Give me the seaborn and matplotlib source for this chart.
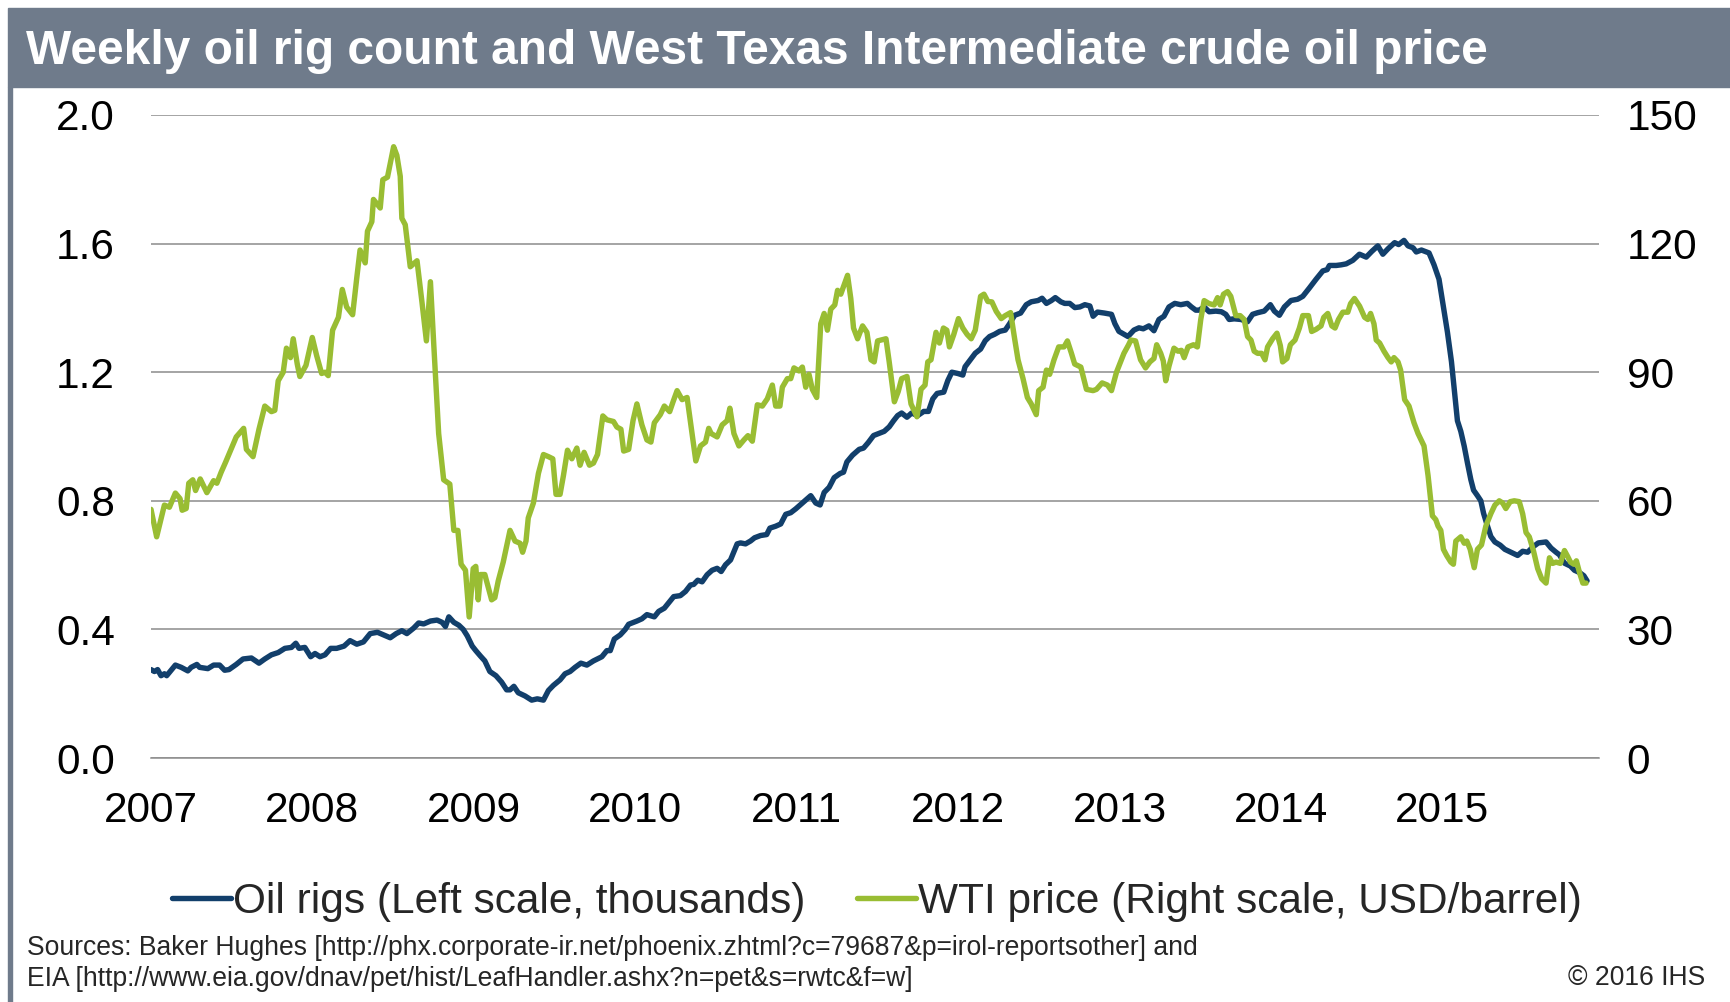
"""
Weekly oil rig count (Baker Hughes) against the WTI crude price (EIA), 2007-2015.
Rig count on the left axis in thousands, WTI on a twin right axis in USD/barrel.
Values are read off the published IHS chart.
"""

import matplotlib
matplotlib.use("Agg")
import matplotlib.pyplot as plt
from matplotlib.lines import Line2D
from matplotlib.patches import Rectangle
import seaborn as sns

TITLE = "Weekly oil rig count and West Texas Intermediate crude oil price"
RIG_LABEL = "Oil rigs (Left scale, thousands)"
WTI_LABEL = "WTI price (Right scale, USD/barrel)"
SOURCE_1 = "Sources: Baker Hughes [http://phx.corporate-ir.net/phoenix.zhtml?c=79687&p=irol-reportsother] and"
SOURCE_2 = "EIA [http://www.eia.gov/dnav/pet/hist/LeafHandler.ashx?n=pet&s=rwtc&f=w]"
COPYRIGHT = "\u00a9 2016 IHS"

year_ticks = [2007, 2008, 2009, 2010, 2011, 2012, 2013, 2014, 2015]
rig_ticks = [0.0, 0.4, 0.8, 1.2, 1.6, 2.0]
wti_ticks = [0, 30, 60, 90, 120, 150]

# oil rigs, thousands (date as decimal year)
rig_year = [
    2007.000, 2007.021, 2007.041, 2007.062, 2007.083, 2007.097, 2007.151, 2007.187, 2007.228, 2007.249,
    2007.284, 2007.301, 2007.352, 2007.388, 2007.425, 2007.456, 2007.483, 2007.528, 2007.570, 2007.622,
    2007.669, 2007.705, 2007.746, 2007.788, 2007.829, 2007.870, 2007.897, 2007.917, 2007.953, 2007.989,
    2008.016, 2008.047, 2008.078, 2008.113, 2008.150, 2008.196, 2008.233, 2008.275, 2008.316, 2008.358,
    2008.403, 2008.440, 2008.482, 2008.519, 2008.554, 2008.585, 2008.627, 2008.658, 2008.689, 2008.731,
    2008.772, 2008.803, 2008.824, 2008.845, 2008.876, 2008.907, 2008.934, 2008.959, 2008.990, 2009.012,
    2009.041, 2009.068, 2009.099, 2009.137, 2009.172, 2009.203, 2009.224, 2009.248, 2009.275, 2009.317,
    2009.358, 2009.393, 2009.431, 2009.462, 2009.493, 2009.534, 2009.565, 2009.596, 2009.627, 2009.663,
    2009.700, 2009.741, 2009.793, 2009.824, 2009.845, 2009.870, 2009.907, 2009.938, 2009.959, 2010.010,
    2010.041, 2010.072, 2010.118, 2010.145, 2010.180, 2010.207, 2010.238, 2010.279, 2010.311, 2010.342,
    2010.362, 2010.387, 2010.414, 2010.445, 2010.476, 2010.507, 2010.532, 2010.559, 2010.590, 2010.631,
    2010.652, 2010.683, 2010.714, 2010.739, 2010.776, 2010.814, 2010.834, 2010.870, 2010.901, 2010.932,
    2010.963, 2010.994, 2011.035, 2011.087, 2011.118, 2011.145, 2011.170, 2011.201, 2011.232, 2011.269,
    2011.290, 2011.311, 2011.346, 2011.387, 2011.414, 2011.443, 2011.476, 2011.511, 2011.542, 2011.573,
    2011.600, 2011.625, 2011.650, 2011.683, 2011.712, 2011.749, 2011.787, 2011.816, 2011.843, 2011.870,
    2011.911, 2011.936, 2011.961, 2011.998, 2012.029, 2012.043, 2012.070, 2012.106, 2012.139, 2012.168,
    2012.195, 2012.226, 2012.257, 2012.292, 2012.319, 2012.350, 2012.387, 2012.422, 2012.453, 2012.495,
    2012.520, 2012.547, 2012.578, 2012.602, 2012.636, 2012.660, 2012.691, 2012.723, 2012.754, 2012.785,
    2012.816, 2012.836, 2012.863, 2012.905, 2012.950, 2012.971, 2012.996, 2013.027, 2013.052, 2013.089,
    2013.120, 2013.147, 2013.182, 2013.213, 2013.244, 2013.275, 2013.306, 2013.342, 2013.379, 2013.420,
    2013.445, 2013.472, 2013.493, 2013.524, 2013.555, 2013.596, 2013.631, 2013.658, 2013.679, 2013.710,
    2013.752, 2013.793, 2013.824, 2013.855, 2013.896, 2013.934, 2013.959, 2013.990, 2014.021, 2014.062,
    2014.103, 2014.135, 2014.176, 2014.217, 2014.259, 2014.286, 2014.300, 2014.342, 2014.373, 2014.404,
    2014.445, 2014.486, 2014.528, 2014.563, 2014.600, 2014.631, 2014.663, 2014.704, 2014.729, 2014.762,
    2014.787, 2014.818, 2014.838, 2014.870, 2014.917, 2014.948, 2014.979, 2015.006, 2015.031, 2015.056,
    2015.077, 2015.093, 2015.114, 2015.135, 2015.155, 2015.176, 2015.193, 2015.217, 2015.238, 2015.255,
    2015.275, 2015.300, 2015.325, 2015.358, 2015.387, 2015.424, 2015.466, 2015.497, 2015.528, 2015.559,
    2015.594, 2015.642, 2015.673, 2015.704, 2015.725, 2015.756, 2015.793, 2015.818, 2015.849, 2015.876,
    2015.896,
]
rig_count = [
    0.275, 0.269, 0.275, 0.256, 0.262, 0.256, 0.289, 0.282, 0.271, 0.282,
    0.291, 0.282, 0.278, 0.289, 0.289, 0.273, 0.275, 0.291, 0.308, 0.311,
    0.295, 0.308, 0.321, 0.328, 0.341, 0.344, 0.357, 0.341, 0.344, 0.315,
    0.325, 0.315, 0.321, 0.341, 0.341, 0.348, 0.365, 0.354, 0.361, 0.387,
    0.391, 0.383, 0.374, 0.387, 0.396, 0.387, 0.404, 0.420, 0.417, 0.426,
    0.429, 0.422, 0.409, 0.439, 0.422, 0.413, 0.400, 0.380, 0.348, 0.334,
    0.317, 0.302, 0.269, 0.256, 0.236, 0.212, 0.212, 0.223, 0.203, 0.193,
    0.180, 0.184, 0.180, 0.210, 0.226, 0.243, 0.262, 0.269, 0.282, 0.295,
    0.289, 0.302, 0.315, 0.334, 0.334, 0.370, 0.383, 0.400, 0.416, 0.426,
    0.433, 0.446, 0.439, 0.456, 0.466, 0.483, 0.502, 0.505, 0.518, 0.538,
    0.540, 0.553, 0.548, 0.570, 0.584, 0.590, 0.580, 0.601, 0.616, 0.666,
    0.669, 0.666, 0.675, 0.685, 0.692, 0.695, 0.715, 0.721, 0.728, 0.758,
    0.763, 0.775, 0.793, 0.816, 0.793, 0.787, 0.826, 0.842, 0.872, 0.885,
    0.889, 0.921, 0.942, 0.960, 0.964, 0.981, 1.003, 1.010, 1.016, 1.030,
    1.049, 1.065, 1.073, 1.060, 1.073, 1.065, 1.078, 1.078, 1.117, 1.134,
    1.138, 1.174, 1.200, 1.196, 1.191, 1.217, 1.235, 1.259, 1.272, 1.298,
    1.311, 1.318, 1.327, 1.331, 1.351, 1.377, 1.384, 1.410, 1.419, 1.423,
    1.430, 1.414, 1.423, 1.432, 1.419, 1.414, 1.414, 1.401, 1.403, 1.410,
    1.406, 1.374, 1.387, 1.384, 1.380, 1.351, 1.327, 1.318, 1.311, 1.331,
    1.338, 1.335, 1.344, 1.329, 1.364, 1.374, 1.403, 1.414, 1.410, 1.414,
    1.403, 1.393, 1.393, 1.403, 1.388, 1.390, 1.388, 1.380, 1.364, 1.366,
    1.364, 1.357, 1.380, 1.385, 1.390, 1.410, 1.390, 1.377, 1.403, 1.423,
    1.427, 1.436, 1.462, 1.489, 1.515, 1.519, 1.532, 1.532, 1.534, 1.537,
    1.548, 1.567, 1.558, 1.576, 1.593, 1.567, 1.584, 1.603, 1.597, 1.610,
    1.593, 1.587, 1.574, 1.580, 1.571, 1.534, 1.489, 1.403, 1.325, 1.233,
    1.128, 1.049, 1.016, 0.970, 0.918, 0.866, 0.833, 0.816, 0.800, 0.761,
    0.728, 0.689, 0.672, 0.662, 0.649, 0.640, 0.630, 0.643, 0.640, 0.656,
    0.669, 0.672, 0.653, 0.640, 0.632, 0.606, 0.597, 0.584, 0.577, 0.567,
    0.551,
]

# WTI spot, USD/barrel (date as decimal year)
wti_year = [
    2007.000, 2007.035, 2007.083, 2007.114, 2007.151, 2007.180, 2007.193, 2007.218, 2007.234, 2007.259,
    2007.276, 2007.305, 2007.346, 2007.388, 2007.408, 2007.435, 2007.462, 2007.491, 2007.528, 2007.574,
    2007.591, 2007.632, 2007.669, 2007.705, 2007.746, 2007.767, 2007.788, 2007.819, 2007.839, 2007.864,
    2007.881, 2007.906, 2007.922, 2007.960, 2007.999, 2008.026, 2008.057, 2008.078, 2008.098, 2008.125,
    2008.161, 2008.185, 2008.212, 2008.249, 2008.275, 2008.295, 2008.327, 2008.341, 2008.368, 2008.378,
    2008.420, 2008.436, 2008.465, 2008.503, 2008.523, 2008.544, 2008.554, 2008.575, 2008.606, 2008.648,
    2008.679, 2008.706, 2008.731, 2008.751, 2008.782, 2008.813, 2008.851, 2008.876, 2008.901, 2008.921,
    2008.948, 2008.971, 2008.996, 2009.012, 2009.027, 2009.041, 2009.068, 2009.110, 2009.130, 2009.151,
    2009.182, 2009.224, 2009.255, 2009.286, 2009.302, 2009.323, 2009.337, 2009.369, 2009.400, 2009.431,
    2009.462, 2009.489, 2009.509, 2009.534, 2009.555, 2009.580, 2009.607, 2009.638, 2009.658, 2009.683,
    2009.716, 2009.741, 2009.766, 2009.799, 2009.824, 2009.865, 2009.886, 2009.911, 2009.928, 2009.959,
    2009.986, 2010.010, 2010.041, 2010.072, 2010.097, 2010.118, 2010.155, 2010.180, 2010.213, 2010.234,
    2010.259, 2010.290, 2010.321, 2010.346, 2010.375, 2010.404, 2010.435, 2010.455, 2010.470, 2010.507,
    2010.538, 2010.569, 2010.586, 2010.611, 2010.642, 2010.673, 2010.698, 2010.725, 2010.756, 2010.787,
    2010.818, 2010.849, 2010.870, 2010.896, 2010.911, 2010.942, 2010.963, 2010.983, 2011.014, 2011.035,
    2011.056, 2011.076, 2011.097, 2011.124, 2011.149, 2011.170, 2011.190, 2011.211, 2011.236, 2011.253,
    2011.273, 2011.315, 2011.335, 2011.352, 2011.377, 2011.408, 2011.435, 2011.460, 2011.480, 2011.501,
    2011.522, 2011.553, 2011.573, 2011.605, 2011.629, 2011.650, 2011.683, 2011.708, 2011.745, 2011.770,
    2011.795, 2011.812, 2011.832, 2011.863, 2011.884, 2011.909, 2011.930, 2011.946, 2011.973, 2012.002,
    2012.029, 2012.056, 2012.081, 2012.106, 2012.139, 2012.160, 2012.184, 2012.209, 2012.236, 2012.267,
    2012.292, 2012.325, 2012.350, 2012.371, 2012.402, 2012.429, 2012.453, 2012.484, 2012.499, 2012.526,
    2012.547, 2012.567, 2012.594, 2012.623, 2012.656, 2012.677, 2012.702, 2012.722, 2012.760, 2012.795,
    2012.836, 2012.857, 2012.892, 2012.925, 2012.950, 2012.981, 2013.027, 2013.056, 2013.070, 2013.099,
    2013.130, 2013.161, 2013.188, 2013.213, 2013.230, 2013.255, 2013.271, 2013.286, 2013.306, 2013.337,
    2013.362, 2013.383, 2013.400, 2013.424, 2013.458, 2013.482, 2013.503, 2013.524, 2013.555, 2013.586,
    2013.607, 2013.623, 2013.644, 2013.669, 2013.689, 2013.720, 2013.747, 2013.772, 2013.793, 2013.814,
    2013.834, 2013.855, 2013.880, 2013.901, 2013.917, 2013.948, 2013.975, 2013.996, 2014.010, 2014.037,
    2014.058, 2014.087, 2014.114, 2014.135, 2014.170, 2014.190, 2014.217, 2014.248, 2014.265, 2014.290,
    2014.315, 2014.335, 2014.356, 2014.383, 2014.414, 2014.431, 2014.455, 2014.487, 2014.518, 2014.538,
    2014.555, 2014.576, 2014.590, 2014.611, 2014.638, 2014.663, 2014.683, 2014.700, 2014.725, 2014.741,
    2014.766, 2014.793, 2014.824, 2014.849, 2014.886, 2014.911, 2014.938, 2014.959, 2014.973, 2014.990,
    2015.006, 2015.027, 2015.052, 2015.068, 2015.083, 2015.114, 2015.135, 2015.151, 2015.172, 2015.197,
    2015.217, 2015.242, 2015.269, 2015.300, 2015.325, 2015.352, 2015.373, 2015.393, 2015.420, 2015.445,
    2015.476, 2015.497, 2015.518, 2015.538, 2015.565, 2015.590, 2015.615, 2015.642, 2015.663, 2015.683,
    2015.704, 2015.731, 2015.756, 2015.776, 2015.793, 2015.814, 2015.830, 2015.849, 2015.870, 2015.890,
]
wti_usd = [
    58.0, 51.6, 59.0, 58.5, 61.8, 60.5, 57.8, 58.2, 64.1, 64.9,
    62.4, 65.1, 61.9, 64.7, 64.1, 66.7, 69.0, 71.6, 74.9, 76.9,
    72.0, 70.3, 76.7, 82.1, 80.8, 81.1, 88.0, 90.0, 95.6, 93.4,
    97.8, 91.9, 89.0, 91.6, 98.1, 93.9, 89.7, 90.0, 89.2, 99.8,
    102.8, 109.3, 105.2, 103.4, 112.1, 118.5, 115.5, 122.9, 125.1, 130.3,
    128.3, 134.9, 135.5, 142.6, 140.6, 135.7, 125.9, 124.4, 114.6, 116.0,
    106.2, 97.3, 111.1, 96.9, 75.7, 64.9, 63.9, 53.1, 53.1, 45.2,
    43.8, 32.9, 44.2, 44.7, 36.9, 42.8, 42.8, 36.9, 37.4, 41.3,
    45.7, 53.1, 50.6, 50.1, 48.0, 50.6, 56.0, 59.5, 66.4, 70.8,
    70.3, 69.8, 61.5, 61.5, 65.9, 71.8, 69.8, 72.3, 68.3, 71.3,
    68.3, 68.8, 70.8, 79.8, 78.9, 78.5, 77.2, 76.7, 71.6, 72.0,
    78.7, 82.6, 77.7, 74.2, 73.7, 78.2, 80.1, 82.1, 80.8, 83.1,
    85.7, 83.6, 84.1, 77.2, 69.3, 72.8, 73.7, 76.9, 75.7, 74.9,
    77.7, 78.7, 81.6, 75.7, 72.8, 74.2, 75.2, 73.9, 82.4, 82.1,
    83.8, 87.0, 82.1, 82.1, 86.5, 88.5, 88.5, 91.0, 90.3, 91.2,
    86.5, 89.5, 86.0, 84.1, 101.3, 103.7, 99.8, 104.7, 105.7, 109.1,
    108.2, 112.6, 107.2, 100.3, 97.8, 100.8, 99.3, 92.9, 92.4, 97.3,
    97.5, 97.8, 92.4, 83.1, 85.5, 88.5, 89.0, 82.6, 79.6, 86.0,
    87.0, 92.4, 92.9, 99.3, 96.8, 100.3, 99.8, 95.9, 98.8, 102.5,
    100.3, 98.8, 97.8, 99.8, 107.7, 108.2, 106.5, 106.4, 104.2, 102.5,
    103.2, 103.9, 97.8, 92.9, 88.5, 84.1, 82.6, 80.1, 85.7, 86.5,
    90.5, 89.5, 92.9, 95.9, 95.9, 97.3, 94.4, 91.9, 91.2, 86.0,
    85.7, 86.0, 87.5, 87.0, 85.7, 90.0, 94.4, 96.4, 97.5, 97.3,
    92.9, 91.0, 92.4, 93.2, 96.4, 94.4, 92.6, 88.0, 91.4, 95.6,
    94.9, 95.1, 93.4, 95.9, 96.4, 95.9, 102.3, 106.7, 106.0, 105.7,
    107.4, 105.7, 108.2, 108.8, 107.7, 103.2, 103.2, 102.3, 98.3, 97.5,
    94.9, 94.4, 94.4, 92.9, 95.9, 97.8, 99.1, 96.2, 92.4, 93.2,
    96.4, 97.5, 100.3, 103.2, 103.2, 99.5, 100.0, 100.8, 102.8, 103.7,
    100.8, 100.3, 102.3, 104.0, 104.0, 106.0, 107.2, 105.4, 102.8, 102.3,
    103.7, 101.3, 97.5, 96.8, 94.9, 93.4, 92.4, 93.4, 92.4, 90.5,
    83.6, 82.1, 78.2, 75.7, 72.8, 65.9, 56.5, 55.6, 54.1, 53.1,
    48.7, 47.2, 45.7, 45.2, 50.6, 51.6, 50.1, 50.6, 48.7, 44.4,
    48.7, 49.7, 54.1, 57.0, 59.0, 60.0, 59.5, 58.2, 59.8, 60.0,
    59.8, 57.0, 52.6, 51.6, 48.2, 44.2, 41.8, 40.8, 46.7, 45.4,
    45.7, 45.4, 48.4, 47.0, 45.7, 45.2, 46.0, 43.3, 40.8, 40.8,
]

NAVY = "#123f6b"
GREEN = "#99bd33"
GRID = "#8c8c8c"
BAR = "#6f7b8b"
FS = 30.5
LW = 3.9

sns.set_theme(style="white")
plt.rcParams["font.family"] = ["Liberation Sans", "DejaVu Sans"]

W, H = 1730, 1002
fig = plt.figure(figsize=(W / 100, H / 100), dpi=100)
fig.patch.set_facecolor("white")

# header bar and left rule
fig.patches.append(Rectangle((8 / W, 1 - 87 / H), 1 - 8 / W, 79 / H,
                             transform=fig.transFigure, color=BAR, zorder=0))
fig.patches.append(Rectangle((8 / W, 0), 4 / W, 1 - 87 / H,
                             transform=fig.transFigure, color=BAR, zorder=0))
fig.text(26 / W, 1 - 64 / H, TITLE, color="white", fontsize=34.5,
         fontweight="bold", ha="left", va="baseline")

ax = fig.add_axes([151 / W, 1 - 758 / H, 1448 / W, 643 / H])
ax2 = ax.twinx()

sns.lineplot(x=rig_year, y=rig_count, ax=ax, color=NAVY, linewidth=LW,
             estimator=None, sort=False,
             solid_joinstyle="round", solid_capstyle="round")
sns.lineplot(x=wti_year, y=wti_usd, ax=ax2, color=GREEN, linewidth=LW,
             estimator=None, sort=False,
             solid_joinstyle="round", solid_capstyle="round")

ax.set_xlim(2007, 2015.97)
ax.set_ylim(0, 2.0)
ax2.set_ylim(0, 150)

ax.set_xticks(year_ticks)
ax.set_xticklabels([str(y) for y in year_ticks])
ax.set_yticks(rig_ticks)
ax.set_yticklabels([f"{v:.1f}" for v in rig_ticks])
ax2.set_yticks(wti_ticks)
ax2.set_yticklabels([str(v) for v in wti_ticks])
ax.set_xlabel("")
ax.set_ylabel("")
ax2.set_ylabel("")

ax.yaxis.grid(True, color=GRID, linewidth=1.1)
ax.xaxis.grid(False)
ax2.grid(False)

for s in ["left", "right", "top"]:
    ax.spines[s].set_visible(False)
for s in ax2.spines.values():
    s.set_visible(False)
ax.spines["bottom"].set_color(GRID)
ax.spines["bottom"].set_linewidth(1.1)

ax.tick_params(axis="x", direction="inout", length=12, width=1.1, color=GRID,
               labelsize=FS, labelcolor="black", pad=18)
ax.tick_params(axis="y", length=0, labelsize=FS, labelcolor="black", pad=26)
ax2.tick_params(axis="y", length=0, labelsize=FS, labelcolor="black", pad=20)

handles = [Line2D([], [], color=NAVY, lw=LW), Line2D([], [], color=GREEN, lw=LW)]
fig.legend(handles, [RIG_LABEL, WTI_LABEL], loc="center",
           bbox_to_anchor=(877 / W, 1 - 902 / H), ncol=2, frameon=False,
           fontsize=FS, handlelength=1.4, handletextpad=0.05, columnspacing=1.2)

fig.text(27 / W, 1 - 948 / H, SOURCE_1, fontsize=19.1, ha="left", va="center")
fig.text(27 / W, 1 - 979 / H, SOURCE_2, fontsize=19.1, ha="left", va="center")
fig.text(1705 / W, 1 - 978 / H, COPYRIGHT, fontsize=19.1, ha="right", va="center")

fig.savefig("out.png", dpi=100)
plt.close(fig)
